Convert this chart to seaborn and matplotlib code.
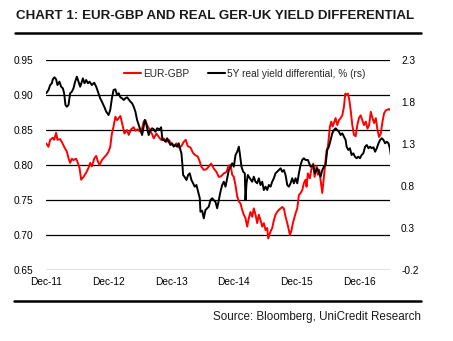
import matplotlib
matplotlib.use("Agg")
import matplotlib.pyplot as plt
import seaborn as sns
import pandas as pd
from matplotlib.lines import Line2D

sns.set_theme(style="white")
plt.rcParams["font.family"] = ["Liberation Sans", "DejaVu Sans"]
plt.rcParams["axes.unicode_minus"] = False

# ---- data (decimal years) ----
eurgbp_t = [2011.917, 2011.954, 2011.981, 2012.024, 2012.045, 2012.077, 2012.098, 2012.141, 2012.168, 2012.205,
            2012.248, 2012.274, 2012.301, 2012.328, 2012.354, 2012.397, 2012.424, 2012.450, 2012.477, 2012.514,
            2012.557, 2012.594, 2012.621, 2012.648, 2012.685, 2012.717, 2012.744, 2012.770, 2012.808, 2012.845,
            2012.877, 2012.914, 2012.941, 2012.968, 2012.994, 2013.021, 2013.048, 2013.074, 2013.101, 2013.128,
            2013.165, 2013.208, 2013.234, 2013.272, 2013.314, 2013.341, 2013.378, 2013.410, 2013.448, 2013.474,
            2013.501, 2013.528, 2013.570, 2013.608, 2013.634, 2013.677, 2013.714, 2013.752, 2013.794, 2013.837,
            2013.874, 2013.912, 2013.954, 2013.997, 2014.034, 2014.077, 2014.114, 2014.146, 2014.178, 2014.221,
            2014.264, 2014.301, 2014.338, 2014.370, 2014.392, 2014.434, 2014.477, 2014.514, 2014.552, 2014.594,
            2014.637, 2014.674, 2014.712, 2014.754, 2014.797, 2014.829, 2014.861, 2014.888, 2014.914, 2014.941,
            2014.968, 2014.994, 2015.021, 2015.048, 2015.074, 2015.101, 2015.128, 2015.154, 2015.181, 2015.208,
            2015.234, 2015.261, 2015.288, 2015.314, 2015.341, 2015.368, 2015.394, 2015.421, 2015.448, 2015.464,
            2015.501, 2015.528, 2015.554, 2015.581, 2015.608, 2015.634, 2015.661, 2015.688, 2015.714, 2015.741,
            2015.768, 2015.794, 2015.810, 2015.837, 2015.858, 2015.880, 2015.901, 2015.928, 2015.954, 2015.981,
            2016.008, 2016.034, 2016.061, 2016.077, 2016.098, 2016.130, 2016.152, 2016.184, 2016.205, 2016.237,
            2016.258, 2016.280, 2016.301, 2016.328, 2016.344, 2016.365, 2016.397, 2016.418, 2016.450, 2016.472,
            2016.493, 2016.514, 2016.541, 2016.568, 2016.594, 2016.621, 2016.648, 2016.674, 2016.696, 2016.717,
            2016.738, 2016.760, 2016.781, 2016.808, 2016.834, 2016.861, 2016.888, 2016.914, 2016.941, 2016.968,
            2016.994, 2017.021, 2017.048, 2017.074, 2017.101, 2017.128, 2017.154, 2017.181, 2017.208, 2017.234,
            2017.261, 2017.288, 2017.314, 2017.341, 2017.368, 2017.394, 2017.421]
eurgbp_v = [0.831, 0.826, 0.836, 0.839, 0.836, 0.846, 0.836, 0.837, 0.833, 0.826,
            0.819, 0.810, 0.803, 0.809, 0.807, 0.809, 0.803, 0.796, 0.779, 0.783,
            0.789, 0.796, 0.803, 0.798, 0.809, 0.813, 0.805, 0.800, 0.807, 0.811,
            0.814, 0.819, 0.826, 0.845, 0.855, 0.869, 0.864, 0.867, 0.870, 0.860,
            0.845, 0.850, 0.843, 0.851, 0.854, 0.849, 0.851, 0.848, 0.852, 0.862,
            0.864, 0.857, 0.850, 0.844, 0.838, 0.845, 0.840, 0.836, 0.838, 0.833,
            0.836, 0.831, 0.827, 0.831, 0.825, 0.827, 0.833, 0.836, 0.827, 0.825,
            0.817, 0.814, 0.812, 0.805, 0.798, 0.793, 0.794, 0.798, 0.802, 0.795,
            0.790, 0.783, 0.784, 0.788, 0.790, 0.799, 0.800, 0.786, 0.783, 0.771,
            0.755, 0.748, 0.745, 0.736, 0.729, 0.724, 0.712, 0.724, 0.733, 0.726,
            0.738, 0.729, 0.717, 0.729, 0.721, 0.712, 0.717, 0.707, 0.710, 0.695,
            0.705, 0.710, 0.721, 0.729, 0.733, 0.736, 0.738, 0.740, 0.738, 0.726,
            0.717, 0.707, 0.700, 0.707, 0.717, 0.724, 0.731, 0.738, 0.757, 0.760,
            0.764, 0.774, 0.779, 0.769, 0.788, 0.781, 0.793, 0.802, 0.783, 0.798,
            0.786, 0.793, 0.779, 0.760, 0.774, 0.793, 0.821, 0.826, 0.855, 0.862,
            0.855, 0.860, 0.867, 0.857, 0.864, 0.867, 0.871, 0.883, 0.902, 0.900,
            0.902, 0.893, 0.879, 0.857, 0.843, 0.841, 0.857, 0.867, 0.871, 0.864,
            0.857, 0.862, 0.852, 0.857, 0.876, 0.867, 0.860, 0.867, 0.850, 0.840,
            0.845, 0.862, 0.874, 0.878, 0.879, 0.880, 0.878]

ryd_t = [2011.917, 2011.954, 2011.981, 2012.008, 2012.024, 2012.050, 2012.077, 2012.098, 2012.130, 2012.157,
         2012.184, 2012.205, 2012.226, 2012.248, 2012.274, 2012.301, 2012.328, 2012.354, 2012.381, 2012.408,
         2012.434, 2012.461, 2012.488, 2012.504, 2012.530, 2012.557, 2012.584, 2012.610, 2012.648, 2012.685,
         2012.717, 2012.754, 2012.781, 2012.808, 2012.845, 2012.877, 2012.914, 2012.941, 2012.968, 2012.994,
         2013.021, 2013.048, 2013.074, 2013.101, 2013.128, 2013.154, 2013.181, 2013.208, 2013.234, 2013.261,
         2013.288, 2013.314, 2013.341, 2013.368, 2013.394, 2013.421, 2013.448, 2013.464, 2013.490, 2013.512,
         2013.528, 2013.554, 2013.581, 2013.608, 2013.634, 2013.661, 2013.688, 2013.730, 2013.752, 2013.773,
         2013.794, 2013.821, 2013.848, 2013.874, 2013.901, 2013.928, 2013.954, 2013.981, 2014.008, 2014.034,
         2014.061, 2014.077, 2014.093, 2014.104, 2014.125, 2014.157, 2014.184, 2014.210, 2014.237, 2014.264,
         2014.290, 2014.317, 2014.344, 2014.370, 2014.381, 2014.408, 2014.434, 2014.461, 2014.488, 2014.514,
         2014.541, 2014.568, 2014.594, 2014.621, 2014.648, 2014.674, 2014.701, 2014.728, 2014.754, 2014.781,
         2014.808, 2014.834, 2014.861, 2014.888, 2014.914, 2014.941, 2014.968, 2014.994, 2015.010, 2015.037,
         2015.064, 2015.090, 2015.101, 2015.117, 2015.138, 2015.170, 2015.208, 2015.234, 2015.261, 2015.288,
         2015.314, 2015.341, 2015.368, 2015.394, 2015.421, 2015.448, 2015.474, 2015.501, 2015.528, 2015.554,
         2015.581, 2015.608, 2015.634, 2015.661, 2015.688, 2015.714, 2015.741, 2015.768, 2015.794, 2015.821,
         2015.848, 2015.874, 2015.901, 2015.928, 2015.954, 2015.981, 2016.008, 2016.034, 2016.061, 2016.098,
         2016.141, 2016.184, 2016.210, 2016.248, 2016.274, 2016.301, 2016.328, 2016.354, 2016.381, 2016.408,
         2016.434, 2016.461, 2016.488, 2016.514, 2016.541, 2016.568, 2016.594, 2016.621, 2016.648, 2016.674,
         2016.701, 2016.717, 2016.744, 2016.770, 2016.797, 2016.824, 2016.850, 2016.877, 2016.904, 2016.930,
         2016.957, 2016.984, 2017.010, 2017.037, 2017.064, 2017.090, 2017.117, 2017.144, 2017.170, 2017.197,
         2017.224, 2017.250, 2017.277, 2017.304, 2017.330, 2017.357, 2017.384, 2017.405, 2017.421]
ryd_v = [1.904, 1.943, 2.002, 2.023, 2.070, 2.094, 2.070, 2.002, 2.042, 1.982,
         1.963, 1.904, 1.764, 1.744, 1.764, 1.904, 1.923, 1.963, 2.042, 2.101,
         2.042, 1.982, 2.042, 2.082, 2.023, 2.062, 2.023, 2.042, 2.002, 2.030,
         1.982, 1.904, 1.844, 1.804, 1.744, 1.685, 1.645, 1.705, 1.844, 1.943,
         1.951, 1.883, 1.904, 1.856, 1.844, 1.824, 1.844, 1.856, 1.832, 1.804,
         1.785, 1.744, 1.685, 1.586, 1.526, 1.467, 1.407, 1.467, 1.586, 1.546,
         1.487, 1.407, 1.467, 1.487, 1.475, 1.446, 1.487, 1.475, 1.499, 1.348,
         1.348, 1.327, 1.368, 1.327, 1.288, 1.308, 1.268, 1.288, 1.268, 1.308,
         1.229, 1.189, 1.050, 0.931, 0.911, 0.871, 0.931, 0.951, 0.871, 0.832,
         0.792, 0.812, 0.732, 0.654, 0.494, 0.506, 0.415, 0.514, 0.535, 0.554,
         0.633, 0.654, 0.633, 0.610, 0.535, 0.633, 0.733, 0.812, 0.851, 0.792,
         0.892, 0.990, 1.030, 1.070, 1.030, 1.169, 1.208, 1.268, 1.189, 1.030,
         0.970, 0.951, 0.633, 0.832, 0.931, 0.892, 0.851, 0.911, 0.851, 0.832,
         0.892, 0.812, 0.851, 0.752, 0.792, 0.752, 0.812, 0.792, 0.851, 0.892,
         0.951, 0.970, 0.990, 1.011, 0.970, 0.990, 0.931, 0.812, 0.792, 0.832,
         0.892, 0.832, 0.892, 0.832, 0.951, 1.050, 1.110, 1.130, 1.110, 1.110,
         1.030, 1.050, 0.951, 1.011, 0.970, 0.911, 0.990, 1.030, 1.050, 1.229,
         1.268, 1.348, 1.427, 1.467, 1.487, 1.467, 1.446, 1.407, 1.427, 1.387,
         1.348, 1.268, 1.229, 1.249, 1.169, 1.189, 1.149, 1.130, 1.149, 1.130,
         1.169, 1.189, 1.268, 1.288, 1.249, 1.268, 1.249, 1.261, 1.208, 1.249,
         1.308, 1.348, 1.368, 1.348, 1.308, 1.327, 1.308, 1.249, 1.169]

left_ticks = [0.65, 0.70, 0.75, 0.80, 0.85, 0.90, 0.95]
right_ticks = [-0.2, 0.3, 0.8, 1.3, 1.8, 2.3]
x_tick_dates = ["2011-12-01", "2012-12-01", "2013-12-01", "2014-12-01", "2015-12-01", "2016-12-01"]
x_tick_labels = ["Dec-11", "Dec-12", "Dec-13", "Dec-14", "Dec-15", "Dec-16"]

title = "CHART 1: EUR-GBP AND REAL GER-UK YIELD DIFFERENTIAL"
source = "Source: Bloomberg, UniCredit Research"
label_a = "EUR-GBP"
label_b = "5Y real yield differential, % (rs)"


def to_date(t):
    y = int(t)
    return pd.Timestamp(y, 1, 1) + pd.Timedelta(days=(t - y) * 365.25)


df_a = pd.DataFrame({"date": [to_date(t) for t in eurgbp_t], "value": eurgbp_v})
df_b = pd.DataFrame({"date": [to_date(t) for t in ryd_t], "value": ryd_v})

W, H = 453, 341
fig = plt.figure(figsize=(W / 100, H / 100), dpi=100)
ax = fig.add_axes([46 / W, 1 - 270 / H, (390 - 46) / W, (270 - 60) / H])
ax2 = ax.twinx()

for a in (ax, ax2):
    a.set_facecolor("none")
    for s in a.spines.values():
        s.set_visible(False)

sns.lineplot(data=df_a, x="date", y="value", ax=ax, color="#ff0000", lw=1.4)
sns.lineplot(data=df_b, x="date", y="value", ax=ax2, color="#000000", lw=1.4)

ax.set_ylim(0.65, 0.95)
ax.set_yticks(left_ticks)
ax.set_yticklabels([f"{v:.2f}" for v in left_ticks])
ax2.set_ylim(-0.2, 2.3)
ax2.set_yticks(right_ticks)
ax2.set_yticklabels([f"{v:.1f}" for v in right_ticks])

xt = pd.to_datetime(x_tick_dates)
ax.set_xticks(xt)
ax.set_xticklabels(x_tick_labels)
ax.set_xlim(pd.Timestamp("2011-12-01"), pd.Timestamp("2017-05-30"))
ax.grid(False)
ax2.grid(False)
for v in left_ticks:
    ax.axhline(v, color="black", lw=0.9, zorder=0)

ax.set_xlabel("")
ax.set_ylabel("")
ax2.set_ylabel("")
ax.tick_params(axis="both", length=0, labelsize=7.3, colors="black")
ax.tick_params(axis="y", pad=9)
ax.tick_params(axis="x", pad=5)
ax2.tick_params(axis="y", length=0, labelsize=7.3, colors="black", pad=8)
if ax.get_legend():
    ax.get_legend().remove()

handles = [Line2D([], [], color="#ff0000", lw=1.5), Line2D([], [], color="black", lw=1.5)]
fig.legend(handles, [label_a, label_b], loc="center left", bbox_to_anchor=(124 / W, 1 - 74 / H),
           ncol=2, frameon=False, fontsize=7.3, handlelength=1.7, handletextpad=0.2,
           columnspacing=1.8, borderpad=0, borderaxespad=0)

fig.text(16 / W, 1 - 16 / H, title, fontsize=9.6, fontweight="bold", color="#1a1a1a",
         ha="left", va="center")
fig.add_artist(Line2D([15 / W, 421 / W], [1 - 33 / H, 1 - 33 / H], color="black", lw=1.8))
fig.add_artist(Line2D([14 / W, 421 / W], [1 - 301 / H, 1 - 301 / H], color="black", lw=1.8))
fig.text(421 / W, 1 - 317 / H, source, fontsize=8.4, color="#1a1a1a", ha="right", va="center")

fig.savefig("out.png", dpi=100)
